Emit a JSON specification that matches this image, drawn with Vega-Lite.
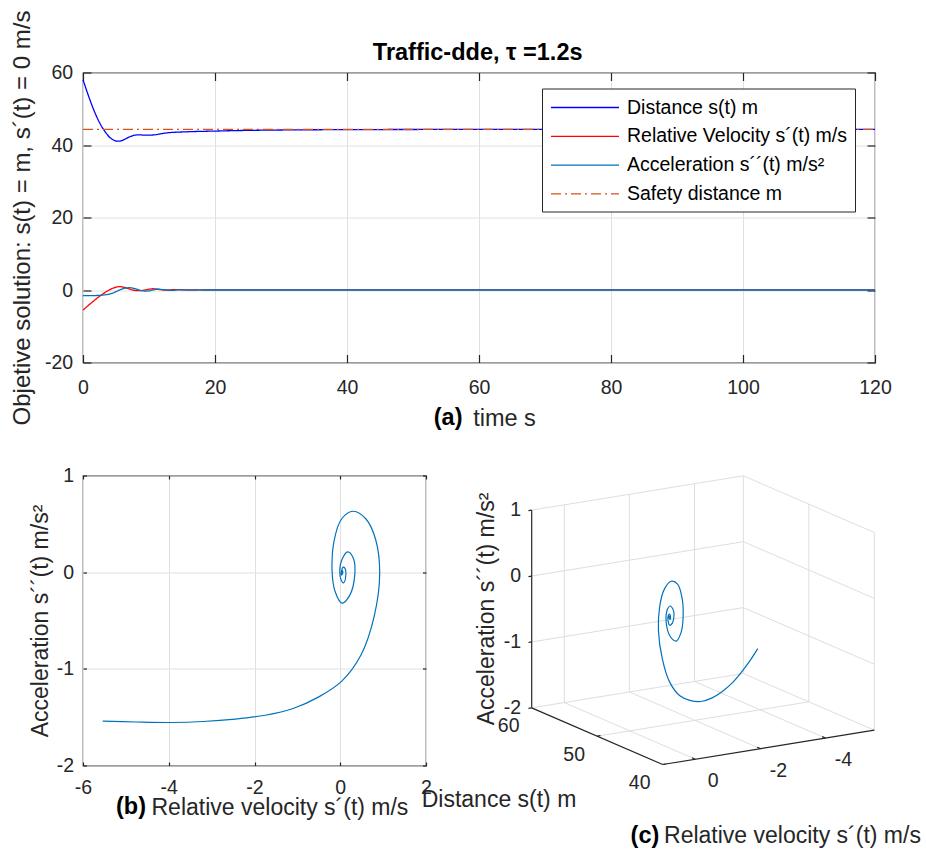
{
  "$schema": "https://vega.github.io/schema/vega-lite/v6.json",
  "background": "white",
  "padding": {"left": 9, "top": 5.5, "right": 0, "bottom": 0},
  "config": {
    "font": "Liberation Sans",
    "view": {"stroke": "#262626", "strokeWidth": 1.2},
    "axis": {
      "domain": false,
      "labelFont": "Liberation Sans", "labelFontSize": 19.5, "labelColor": "#262626",
      "labelExpr": "toString(datum.value)",
      "titleFont": "Liberation Sans", "titleFontSize": 23, "titleFontWeight": "normal", "titleColor": "#262626",
      "gridColor": "#e0e0e0", "gridWidth": 1,
      "tickColor": "#262626", "tickWidth": 1.2,
      "labelFlush": false, "labelOverlap": false
    }
  },
  "datasets": {
    "traj": [
      {"t":0,"s":58.0,"v":-5.54,"a":-1.54},
      {"t":0.5,"s":55.3,"v":-4.75,"a":-1.55},
      {"t":1,"s":52.7,"v":-3.95,"a":-1.555},
      {"t":1.5,"s":50.3,"v":-3.2,"a":-1.545},
      {"t":2,"s":48.1,"v":-2.45,"a":-1.52},
      {"t":2.5,"s":46.2,"v":-1.75,"a":-1.48},
      {"t":3,"s":44.6,"v":-1.1,"a":-1.41},
      {"t":3.5,"s":43.3,"v":-0.5,"a":-1.29},
      {"t":4,"s":42.2,"v":0.03,"a":-1.13},
      {"t":4.5,"s":41.5,"v":0.48,"a":-0.86},
      {"t":5,"s":41.1,"v":0.79,"a":-0.46},
      {"t":5.5,"s":41.05,"v":0.92,"a":-0.02},
      {"t":6,"s":41.3,"v":0.83,"a":0.33},
      {"t":6.5,"s":41.75,"v":0.6,"a":0.55},
      {"t":7,"s":42.2,"v":0.3,"a":0.63},
      {"t":7.5,"s":42.55,"v":0.03,"a":0.55},
      {"t":8,"s":42.75,"v":-0.15,"a":0.31},
      {"t":8.5,"s":42.8,"v":-0.19,"a":0.01},
      {"t":9,"s":42.75,"v":-0.12,"a":-0.2},
      {"t":9.5,"s":42.7,"v":0.04,"a":-0.32},
      {"t":10,"s":42.7,"v":0.22,"a":-0.24},
      {"t":10.5,"s":42.75,"v":0.34,"a":-0.02},
      {"t":11,"s":42.85,"v":0.3,"a":0.15},
      {"t":11.5,"s":43.0,"v":0.17,"a":0.21},
      {"t":12,"s":43.15,"v":0.04,"a":0.13},
      {"t":12.5,"s":43.3,"v":-0.01,"a":0.03},
      {"t":13,"s":43.4,"v":0.02,"a":-0.08},
      {"t":13.5,"s":43.47,"v":0.08,"a":-0.11},
      {"t":14,"s":43.52,"v":0.13,"a":-0.03},
      {"t":14.5,"s":43.56,"v":0.11,"a":0.04},
      {"t":15,"s":43.6,"v":0.06,"a":0.05},
      {"t":15.5,"s":43.63,"v":0.03,"a":0.01},
      {"t":16,"s":43.66,"v":0.03,"a":-0.03},
      {"t":16.5,"s":43.69,"v":0.05,"a":-0.02},
      {"t":17,"s":43.72,"v":0.06,"a":0.0},
      {"t":17.5,"s":43.74,"v":0.05,"a":0.015},
      {"t":18,"s":43.76,"v":0.035,"a":0.005},
      {"t":18.5,"s":43.78,"v":0.03,"a":-0.005},
      {"t":19,"s":43.8,"v":0.035,"a":-0.005},
      {"t":19.5,"s":43.82,"v":0.04,"a":0.0},
      {"t":20,"s":43.84,"v":0.035,"a":0.0},
      {"t":22,"s":43.93,"v":0.03,"a":0.0},
      {"t":25,"s":44.03,"v":0.03,"a":0.0},
      {"t":30,"s":44.14,"v":0.03,"a":0.0},
      {"t":40,"s":44.24,"v":0.03,"a":0.0},
      {"t":50,"s":44.28,"v":0.03,"a":0.0},
      {"t":60,"s":44.3,"v":0.03,"a":0.0},
      {"t":80,"s":44.3,"v":0.03,"a":0.0},
      {"t":100,"s":44.3,"v":0.03,"a":0.0},
      {"t":120,"s":44.3,"v":0.03,"a":0.0}
    ],
    "safety": [
      {"t":0,"series":"safe","value":44.3},
      {"t":120,"series":"safe","value":44.3}
    ],
    "box3d": [
      {"k":"g","v1":1,"s1":60,"z1":-1,"v2":-5.5,"s2":60,"z2":-1},
      {"k":"g","v1":1,"s1":60,"z1":0,"v2":-5.5,"s2":60,"z2":0},
      {"k":"g","v1":1,"s1":60,"z1":1,"v2":-5.5,"s2":60,"z2":1},
      {"k":"g","v1":1,"s1":60,"z1":-2,"v2":-5.5,"s2":60,"z2":-2},
      {"k":"g","v1":0,"s1":60,"z1":-2,"v2":0,"s2":60,"z2":1},
      {"k":"g","v1":-2,"s1":60,"z1":-2,"v2":-2,"s2":60,"z2":1},
      {"k":"g","v1":-4,"s1":60,"z1":-2,"v2":-4,"s2":60,"z2":1},
      {"k":"g","v1":-5.5,"s1":60,"z1":-2,"v2":-5.5,"s2":60,"z2":1},
      {"k":"g","v1":-5.5,"s1":60,"z1":-1,"v2":-5.5,"s2":40,"z2":-1},
      {"k":"g","v1":-5.5,"s1":60,"z1":0,"v2":-5.5,"s2":40,"z2":0},
      {"k":"g","v1":-5.5,"s1":60,"z1":1,"v2":-5.5,"s2":40,"z2":1},
      {"k":"g","v1":-5.5,"s1":60,"z1":-2,"v2":-5.5,"s2":40,"z2":-2},
      {"k":"g","v1":-5.5,"s1":50,"z1":-2,"v2":-5.5,"s2":50,"z2":1},
      {"k":"g","v1":-5.5,"s1":40,"z1":-2,"v2":-5.5,"s2":40,"z2":1},
      {"k":"g","v1":0,"s1":60,"z1":-2,"v2":0,"s2":40,"z2":-2},
      {"k":"g","v1":-2,"s1":60,"z1":-2,"v2":-2,"s2":40,"z2":-2},
      {"k":"g","v1":-4,"s1":60,"z1":-2,"v2":-4,"s2":40,"z2":-2},
      {"k":"g","v1":1,"s1":50,"z1":-2,"v2":-5.5,"s2":50,"z2":-2},
      {"k":"a","v1":1,"s1":60,"z1":-2,"v2":1,"s2":60,"z2":1},
      {"k":"a","v1":1,"s1":60,"z1":-2,"v2":1,"s2":40,"z2":-2},
      {"k":"a","v1":1,"s1":40,"z1":-2,"v2":-5.5,"s2":40,"z2":-2},
      {"k":"a","v1":1,"s1":60,"z1":-2,"v2":1.1,"s2":60,"z2":-2},
      {"k":"a","v1":1,"s1":60,"z1":-1,"v2":1.1,"s2":60,"z2":-1},
      {"k":"a","v1":1,"s1":60,"z1":0,"v2":1.1,"s2":60,"z2":0},
      {"k":"a","v1":1,"s1":60,"z1":1,"v2":1.1,"s2":60,"z2":1},
      {"k":"a","v1":1,"s1":50,"z1":-2,"v2":0.9,"s2":50,"z2":-2},
      {"k":"a","v1":1,"s1":40,"z1":-2,"v2":0.9,"s2":40,"z2":-2},
      {"k":"a","v1":0,"s1":40,"z1":-2,"v2":0,"s2":40.5,"z2":-2},
      {"k":"a","v1":-2,"s1":40,"z1":-2,"v2":-2,"s2":40.5,"z2":-2},
      {"k":"a","v1":-4,"s1":40,"z1":-2,"v2":-4,"s2":40.5,"z2":-2}
    ],
    "ctext": [
      {"k":"z","v":1,"s":60,"z":1,"label":"1"},
      {"k":"z","v":1,"s":60,"z":0,"label":"0"},
      {"k":"z","v":1,"s":60,"z":-1,"label":"-1"},
      {"k":"z","v":1,"s":60,"z":-2,"label":"-2"},
      {"k":"s","v":1,"s":60,"z":-2,"label":"60"},
      {"k":"s","v":1,"s":50,"z":-2,"label":"50"},
      {"k":"s","v":1,"s":40,"z":-2,"label":"40"},
      {"k":"v","v":0,"s":40,"z":-2,"label":"0"},
      {"k":"v","v":-2,"s":40,"z":-2,"label":"-2"},
      {"k":"v","v":-4,"s":40,"z":-2,"label":"-4"},
      {"k":"zt","v":1,"s":60,"z":-0.5,"label":"Acceleration s´´(t) m/s²"},
      {"k":"st","v":1,"s":50,"z":-2,"label":"Distance s(t) m"},
      {"k":"vt","v":-2.25,"s":40,"z":-2,"label":"Relative velocity s´(t) m/s"},
      {"k":"vb","v":-2.25,"s":40,"z":-2,"label":"(c)"}
    ]
  },
  "bounds": "flush",
  "spacing": 113,
  "vconcat": [
    {
      "width": 792,
      "height": 290,
      "layer": [
        {
          "data": {"name": "traj"},
          "transform": [{"fold": ["s", "v", "a"], "as": ["series", "value"]}],
          "mark": {"type": "line", "interpolate": "monotone", "strokeWidth": 1.3},
          "encoding": {
            "x": {"field": "t", "type": "quantitative", "scale": {"domain": [0, 120], "nice": false, "zero": false},
              "axis": {"values": [0, 20, 40, 60, 80, 100, 120], "title": "time s", "titleX": 389.7, "titleY": 62.7, "titleAlign": "left", "titleBaseline": "alphabetic", "titleFontSize": 23.5, "tickSize": -8, "labelPadding": 23.5, "grid": true}},
            "y": {"field": "value", "type": "quantitative", "scale": {"domain": [-20, 60], "nice": false, "zero": false},
              "axis": {"values": [-20, 0, 20, 40, 60], "title": "Objetive solution: s(t) = m,  s´(t) = 0 m/s", "titleX": -54, "titleY": 145, "titleAngle": 270, "titleAlign": "center", "titleBaseline": "alphabetic", "titleFontSize": 24, "tickSize": -8, "labelPadding": 18.3, "grid": true}},
            "color": {"field": "series", "type": "nominal",
              "scale": {"domain": ["s", "v", "a", "safe"], "range": ["#0000ff", "#ff0000", "#0072bd", "#d95319"]},
              "legend": {"title": null, "orient": "none", "legendX": 459, "legendY": 16, "symbolType": "M-1,0H5.8", "symbolSize": 400, "symbolStrokeWidth": 1.3, "labelFontSize": 19.5, "labelFont": "Liberation Sans", "labelColor": "#000000", "labelLimit": 400, "labelOffset": 55, "padding": 8, "rowPadding": 7.8, "strokeColor": "#262626", "fillColor": "#ffffff",
                "labelExpr": "datum.value == 's' ? 'Distance s(t) m' : datum.value == 'v' ? 'Relative Velocity s´(t) m/s' : datum.value == 'a' ? 'Acceleration s´´(t) m/s²' : 'Safety distance m'"}},
            "strokeDash": {"field": "series", "type": "nominal",
              "scale": {"domain": ["s", "v", "a", "safe"], "range": [[1, 0], [1, 0], [1, 0], [10, 4, 2, 4]]}}
          }
        },
        {
          "data": {"name": "safety"},
          "mark": {"type": "line", "strokeWidth": 1.3},
          "encoding": {
            "x": {"field": "t", "type": "quantitative", "axis": null},
            "y": {"field": "value", "type": "quantitative", "axis": null},
            "color": {"field": "series", "type": "nominal"},
            "strokeDash": {"field": "series", "type": "nominal"}
          }
        },
        {
          "data": {"values": [{}]},
          "mark": {"type": "text", "text": "(a)", "font": "Liberation Sans", "fontWeight": "bold", "fontSize": 23.5, "align": "right", "baseline": "alphabetic", "dy": 62.7, "color": "#000000"},
          "encoding": {
            "x": {"datum": 57.5, "type": "quantitative", "axis": null},
            "y": {"datum": -20, "type": "quantitative", "axis": null}
          }
        },
        {
          "data": {"values": [{}]},
          "mark": {"type": "text", "text": "Traffic-dde, τ =1.2s", "font": "Liberation Sans", "fontWeight": "bold", "fontSize": 23.5, "align": "center", "baseline": "alphabetic", "dy": -12.3, "color": "#000000"},
          "encoding": {
            "x": {"datum": 59.8, "type": "quantitative", "axis": null},
            "y": {"datum": 60, "type": "quantitative", "axis": null}
          }
        },
        {
          "data": {"name": "safety"},
          "mark": {"type": "line", "opacity": 0},
          "encoding": {
            "x": {"field": "t", "type": "quantitative", "axis": {"orient": "top", "values": [0, 20, 40, 60, 80, 100, 120], "labels": false, "title": null, "grid": false, "tickSize": -8}},
            "y": {"field": "value", "type": "quantitative", "axis": {"orient": "right", "values": [-20, 0, 20, 40, 60], "labels": false, "title": null, "grid": false, "tickSize": -8}}
          }
        }
      ],
      "resolve": {"axis": {"x": "independent", "y": "independent"}}
    },
    {
      "bounds": "flush",
      "spacing": 5,
      "hconcat": [
        {
          "width": 343,
          "height": 290,
          "layer": [
            {
              "data": {"name": "traj"},
              "transform": [{"filter": "datum.t <= 22"}],
              "mark": {"type": "line", "interpolate": "catmull-rom", "strokeWidth": 1.2, "color": "#0072bd"},
              "encoding": {
                "x": {"field": "v", "type": "quantitative", "scale": {"domain": [-6, 2], "nice": false, "zero": false},
                  "axis": {"values": [-6, -4, -2, 0, 2], "title": "Relative velocity s´(t) m/s", "titleX": 68, "titleY": 48.6, "titleAlign": "left", "titleBaseline": "alphabetic", "tickSize": -3.5, "labelPadding": 16.5, "grid": true}},
                "y": {"field": "a", "type": "quantitative", "scale": {"domain": [-2, 1], "nice": false, "zero": false},
                  "axis": {"values": [-2, -1, 0, 1], "title": "Acceleration s´´(t) m/s²", "titleX": -35.5, "titleY": 145, "titleAngle": 270, "titleAlign": "center", "titleBaseline": "alphabetic", "tickSize": -3.5, "labelPadding": 12.8, "grid": true}},
                "order": {"field": "t", "type": "quantitative"}
              }
            },
            {
              "data": {"values": [{}]},
              "mark": {"type": "text", "text": "(b)", "font": "Liberation Sans", "fontWeight": "bold", "fontSize": 23.5, "align": "right", "baseline": "alphabetic", "dy": 48.6, "color": "#000000"},
              "encoding": {
                "x": {"datum": -4.53, "type": "quantitative", "axis": null},
                "y": {"datum": -2, "type": "quantitative", "axis": null}
              }
            },
            {
              "data": {"values": [{"v": 0, "a": 0}]},
              "mark": {"type": "point", "opacity": 0},
              "encoding": {
                "x": {"field": "v", "type": "quantitative", "axis": {"orient": "top", "values": [-6, -4, -2, 0, 2], "labels": false, "title": null, "grid": false, "tickSize": -3.5}},
                "y": {"field": "a", "type": "quantitative", "axis": {"orient": "right", "values": [-2, -1, 0, 1], "labels": false, "title": null, "grid": false, "tickSize": -3.5}}
              }
            }
          ],
          "resolve": {"axis": {"x": "independent", "y": "independent"}}
        },
        {
          "width": 490,
          "height": 376,
          "view": {"stroke": null},
          "layer": [
            {
              "data": {"name": "box3d"},
              "transform": [
                {"filter": "datum.k == 'g'"},
                {"calculate": "(1 - datum.v1) * 32.56 + (40 - datum.s1) * 6.55", "as": "P1"},
                {"calculate": "(1 - datum.v1) * 5.283 - (40 - datum.s1) * 2.833 + (datum.z1 + 2) * 65.9", "as": "Q1"},
                {"calculate": "(1 - datum.v2) * 32.56 + (40 - datum.s2) * 6.55", "as": "P2"},
                {"calculate": "(1 - datum.v2) * 5.283 - (40 - datum.s2) * 2.833 + (datum.z2 + 2) * 65.9", "as": "Q2"}
              ],
              "mark": {"type": "rule", "color": "#dedede", "strokeWidth": 1},
              "encoding": {
                "x": {"field": "P1", "type": "quantitative", "scale": {"domain": [-231.7, 258.3], "nice": false, "zero": false}, "axis": null},
                "y": {"field": "Q1", "type": "quantitative", "scale": {"domain": [-87, 289], "nice": false, "zero": false}, "axis": null},
                "x2": {"field": "P2"},
                "y2": {"field": "Q2"}
              }
            },
            {
              "data": {"name": "box3d"},
              "transform": [
                {"filter": "datum.k == 'a'"},
                {"calculate": "(1 - datum.v1) * 32.56 + (40 - datum.s1) * 6.55", "as": "P1"},
                {"calculate": "(1 - datum.v1) * 5.283 - (40 - datum.s1) * 2.833 + (datum.z1 + 2) * 65.9", "as": "Q1"},
                {"calculate": "(1 - datum.v2) * 32.56 + (40 - datum.s2) * 6.55", "as": "P2"},
                {"calculate": "(1 - datum.v2) * 5.283 - (40 - datum.s2) * 2.833 + (datum.z2 + 2) * 65.9", "as": "Q2"}
              ],
              "mark": {"type": "rule", "color": "#262626", "strokeWidth": 1.2},
              "encoding": {
                "x": {"field": "P1", "type": "quantitative"},
                "y": {"field": "Q1", "type": "quantitative"},
                "x2": {"field": "P2"},
                "y2": {"field": "Q2"}
              }
            },
            {
              "data": {"name": "traj"},
              "transform": [
                {"filter": "datum.t <= 22"},
                {"calculate": "(1 - datum.v) * 32.56 + (40 - datum.s) * 6.55", "as": "P1"},
                {"calculate": "(1 - datum.v) * 5.283 - (40 - datum.s) * 2.833 + (datum.a + 2) * 65.9", "as": "Q1"}
              ],
              "mark": {"type": "line", "interpolate": "catmull-rom", "strokeWidth": 1.2, "color": "#0072bd"},
              "encoding": {
                "x": {"field": "P1", "type": "quantitative"},
                "y": {"field": "Q1", "type": "quantitative"},
                "order": {"field": "t", "type": "quantitative"}
              }
            },
            {
              "data": {"name": "ctext"},
              "transform": [
                {"filter": "datum.k == 'z'"},
                {"calculate": "(1 - datum.v) * 32.56 + (40 - datum.s) * 6.55", "as": "P1"},
                {"calculate": "(1 - datum.v) * 5.283 - (40 - datum.s) * 2.833 + (datum.z + 2) * 65.9", "as": "Q1"}
              ],
              "mark": {"type": "text", "font": "Liberation Sans", "fontSize": 19.5, "color": "#262626", "align": "right", "baseline": "middle", "dx": -10.7},
              "encoding": {
                "x": {"field": "P1", "type": "quantitative"},
                "y": {"field": "Q1", "type": "quantitative"},
                "text": {"field": "label"}
              }
            },
            {
              "data": {"name": "ctext"},
              "transform": [
                {"filter": "datum.k == 's'"},
                {"calculate": "(1 - datum.v) * 32.56 + (40 - datum.s) * 6.55", "as": "P1"},
                {"calculate": "(1 - datum.v) * 5.283 - (40 - datum.s) * 2.833 + (datum.z + 2) * 65.9", "as": "Q1"}
              ],
              "mark": {"type": "text", "font": "Liberation Sans", "fontSize": 19.5, "color": "#262626", "align": "center", "baseline": "middle", "dx": -23, "dy": 18.5},
              "encoding": {
                "x": {"field": "P1", "type": "quantitative"},
                "y": {"field": "Q1", "type": "quantitative"},
                "text": {"field": "label"}
              }
            },
            {
              "data": {"name": "ctext"},
              "transform": [
                {"filter": "datum.k == 'v'"},
                {"calculate": "(1 - datum.v) * 32.56 + (40 - datum.s) * 6.55", "as": "P1"},
                {"calculate": "(1 - datum.v) * 5.283 - (40 - datum.s) * 2.833 + (datum.z + 2) * 65.9", "as": "Q1"}
              ],
              "mark": {"type": "text", "font": "Liberation Sans", "fontSize": 19.5, "color": "#262626", "align": "center", "baseline": "middle", "dx": 18, "dy": 22},
              "encoding": {
                "x": {"field": "P1", "type": "quantitative"},
                "y": {"field": "Q1", "type": "quantitative"},
                "text": {"field": "label"}
              }
            },
            {
              "data": {"name": "ctext"},
              "transform": [
                {"filter": "datum.k == 'zt'"},
                {"calculate": "(1 - datum.v) * 32.56 + (40 - datum.s) * 6.55", "as": "P1"},
                {"calculate": "(1 - datum.v) * 5.283 - (40 - datum.s) * 2.833 + (datum.z + 2) * 65.9", "as": "Q1"}
              ],
              "mark": {"type": "text", "font": "Liberation Sans", "fontSize": 23, "color": "#262626", "align": "center", "baseline": "alphabetic", "angle": 270, "dy": -37.7},
              "encoding": {
                "x": {"field": "P1", "type": "quantitative"},
                "y": {"field": "Q1", "type": "quantitative"},
                "text": {"field": "label"}
              }
            },
            {
              "data": {"name": "ctext"},
              "transform": [
                {"filter": "datum.k == 'st'"},
                {"calculate": "(1 - datum.v) * 32.56 + (40 - datum.s) * 6.55", "as": "P1"},
                {"calculate": "(1 - datum.v) * 5.283 - (40 - datum.s) * 2.833 + (datum.z + 2) * 65.9", "as": "Q1"}
              ],
              "mark": {"type": "text", "font": "Liberation Sans", "fontSize": 23, "color": "#262626", "align": "center", "baseline": "alphabetic", "dx": -98.2, "dy": 71.3},
              "encoding": {
                "x": {"field": "P1", "type": "quantitative"},
                "y": {"field": "Q1", "type": "quantitative"},
                "text": {"field": "label"}
              }
            },
            {
              "data": {"name": "ctext"},
              "transform": [
                {"filter": "datum.k == 'vt'"},
                {"calculate": "(1 - datum.v) * 32.56 + (40 - datum.s) * 6.55", "as": "P1"},
                {"calculate": "(1 - datum.v) * 5.283 - (40 - datum.s) * 2.833 + (datum.z + 2) * 65.9", "as": "Q1"}
              ],
              "mark": {"type": "text", "font": "Liberation Sans", "fontSize": 23, "color": "#262626", "align": "left", "baseline": "alphabetic", "dx": -104.5, "dy": 95.2},
              "encoding": {
                "x": {"field": "P1", "type": "quantitative"},
                "y": {"field": "Q1", "type": "quantitative"},
                "text": {"field": "label"}
              }
            },
            {
              "data": {"name": "ctext"},
              "transform": [
                {"filter": "datum.k == 'vb'"},
                {"calculate": "(1 - datum.v) * 32.56 + (40 - datum.s) * 6.55", "as": "P1"},
                {"calculate": "(1 - datum.v) * 5.283 - (40 - datum.s) * 2.833 + (datum.z + 2) * 65.9", "as": "Q1"}
              ],
              "mark": {"type": "text", "font": "Liberation Sans", "fontSize": 23.5, "fontWeight": "bold", "color": "#000000", "align": "right", "baseline": "alphabetic", "dx": -109.2, "dy": 95.2},
              "encoding": {
                "x": {"field": "P1", "type": "quantitative"},
                "y": {"field": "Q1", "type": "quantitative"},
                "text": {"field": "label"}
              }
            }
          ]
        }
      ]
    }
  ]
}
